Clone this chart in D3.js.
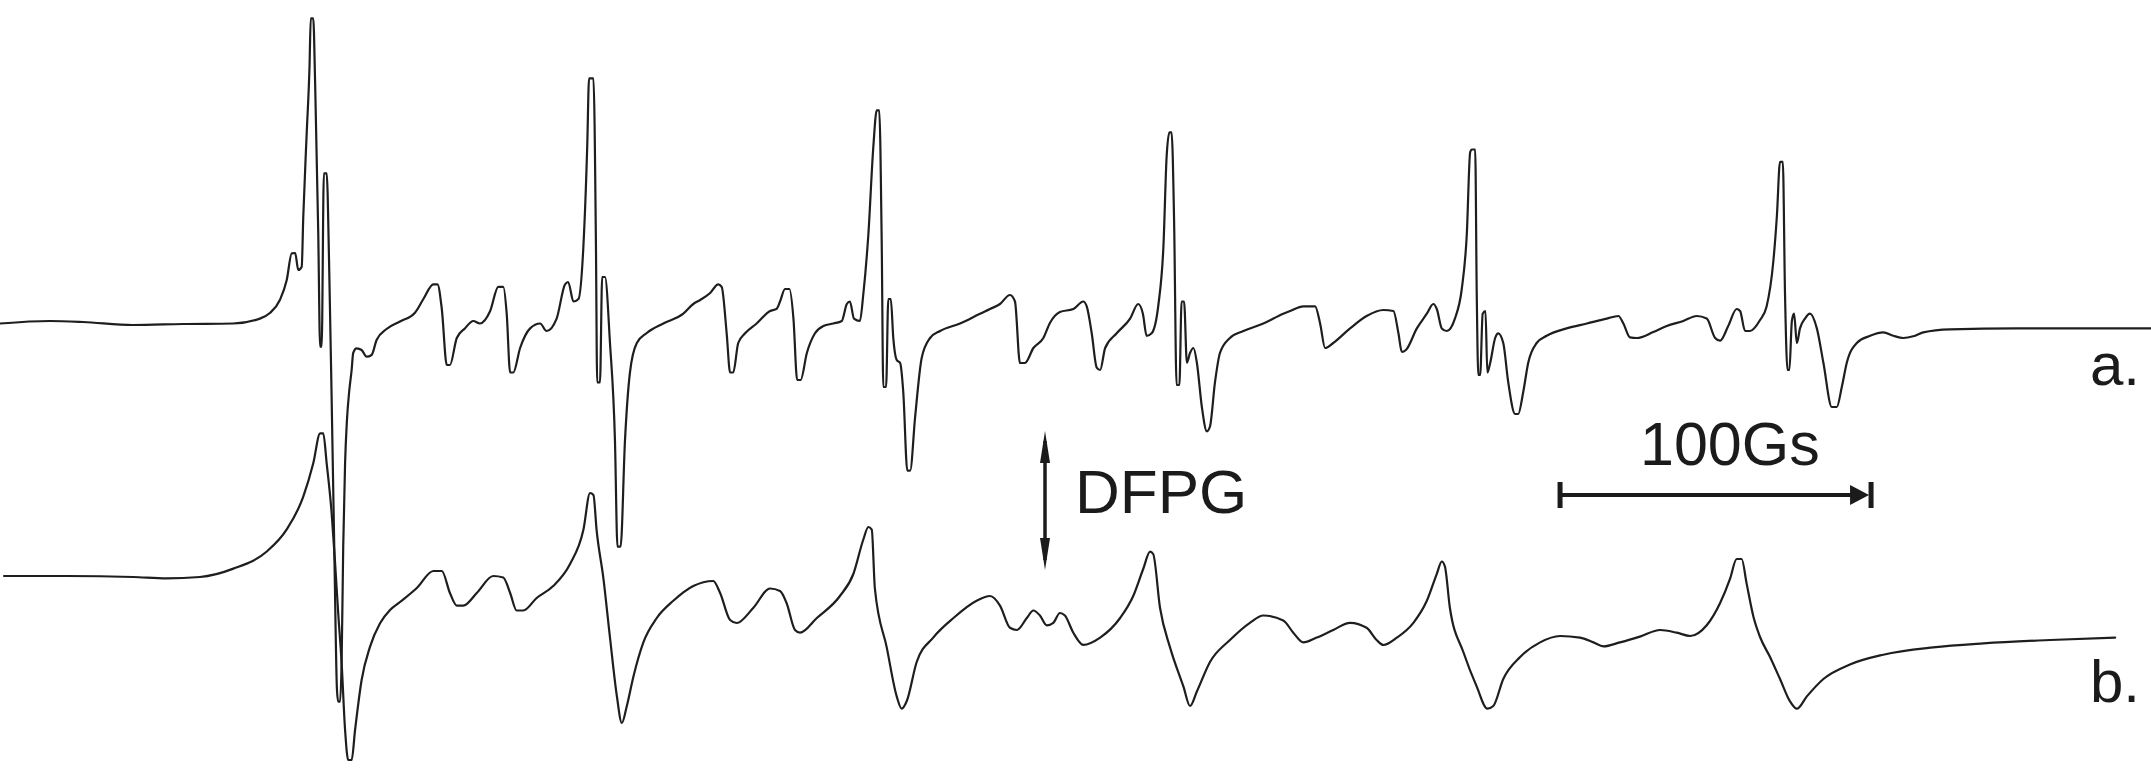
<!DOCTYPE html>
<html>
<head>
<meta charset="utf-8">
<title>EPR spectra a/b</title>
<script src="https://cdn.jsdelivr.net/npm/d3@7/dist/d3.min.js"></script>
<style>
  html, body { margin: 0; padding: 0; background: #ffffff; }
  svg { display: block; }
  text { font-family: "Liberation Sans", Arial, Helvetica, sans-serif; fill: #1b1b1b; }
</style>
</head>
<body>
<svg id="chart" width="2151" height="769"></svg>
<script>
// Magnetic field offset (G) and first-derivative signal (a.u.) for spectrum a
const fieldA = [
  0, 16.0, 26.6, 42.6, 58.7, 74.7, 83.3, 86.5, 89.7, 91.9, 93.5, 94.6, 95.6, 96.7, 97.2, 98.3, 99.2, 99.6, 100.4, 101.0,
  102.0, 102.6, 103.1, 103.8, 104.7, 105.5, 106.3, 107.2, 108.0, 108.4, 109.0, 109.5, 110.0, 110.6, 111.2, 111.9, 112.7, 113.2, 114.3, 115.9,
  117.5, 119.1, 120.7, 123.9, 128.2, 133.0, 135.7, 138.9, 140.2, 141.6, 143.2, 144.2, 146.4, 149.0, 151.7, 153.8, 157.1, 159.7, 161.3, 162.4,
  163.5, 164.5, 166.7, 169.9, 173.1, 175.2, 178.4, 181.1, 182.1, 183.8, 185.4, 187.0, 188.2, 188.8, 190.2, 191.0, 191.4, 192.3, 193.0, 193.9,
  195.5, 197.1, 197.9, 198.9, 200.3, 201.9, 204.1, 207.3, 212.6, 219.0, 222.2, 224.4, 227.6, 230.2, 231.3, 232.9, 234.0, 235.0, 236.6, 238.8,
  242.5, 246.8, 248.9, 250.0, 251.6, 253.0, 254.3, 255.5, 256.6, 258.6, 261.2, 263.9, 267.1, 269.8, 271.4, 272.4, 273.7, 275.6, 276.7, 278.3,
  279.9, 281.0, 281.8, 282.6, 283.1, 284.0, 284.7, 285.5, 286.3, 287.4, 288.5, 289.5, 290.8, 291.7, 293.3, 295.4, 298.1, 301.3, 307.7, 314.1,
  317.3, 320.5, 323.7, 325.3, 326.9, 328.5, 331.2, 334.4, 336.5, 339.7, 344.0, 347.2, 348.3, 349.9, 351.5, 352.6, 354.2, 357.9, 362.2, 364.8,
  366.3, 367.5, 369.1, 371.3, 372.9, 373.9, 374.8, 375.5, 376.3, 377.1, 378.0, 378.7, 379.5, 380.4, 381.4, 382.5, 383.6, 385.2, 386.8, 387.8,
  389.4, 391.0, 394.2, 398.5, 404.9, 411.3, 413.5, 417.7, 421.5, 423.1, 424.7, 427.3, 432.7, 438.0, 443.4, 446.6, 448.2, 449.3, 450.6, 454.1,
  457.3, 459.4, 460.5, 462.1, 463.7, 466.3, 468.5, 470.1, 471.2, 471.7, 472.8, 473.3, 473.8, 474.4, 475.2, 476.1, 476.7, 477.6, 479.2, 480.2,
  481.8, 483.4, 485.6, 486.6, 488.2, 489.8, 492.5, 495.7, 502.1, 508.6, 515.0, 518.7, 520.3, 522.4, 524.6, 529.9, 534.2, 539.5, 543.8, 547.0,
  549.7, 551.3, 553.9, 556.6, 557.7, 559.3, 560.9, 564.1, 566.2, 568.4, 569.5, 570.5, 571.4, 572.1, 572.9, 573.5, 574.3, 575.0, 575.9, 576.9,
  578.5, 580.1, 582.3, 584.4, 587.1, 588.7, 590.3, 591.9, 595.1, 599.4, 603.6, 606.8, 610.0, 613.2, 616.4, 625.0, 646.4, 667.7, 689.4
];
const signalA = [
  0.5, 3, 2, -1, 0, 0.5, 5.4, 11, 24, 44, 70.7, 71, 54, 57.3, 107.3, 191, 257.3, 305.7, 305.7, 241,
  91, -22.7, -22.7, 150.7, 150.7, 57.3, -76, -236, -366, -377.7, -377.7, -336, -223, -139, -96, -68, -46, -29, -24.3, -26,
  -32.7, -31, -16, -5, 2.5, 11.3, 25, 39.7, 39.7, 15, -41, -41, -14, -4.4, 3, 0.5, 13, 37.2, 37.2, 10.3,
  -48.5, -48.5, -24, -4.4, 0.5, -7, 5.4, 39.7, 42, 22.5, 25, 79, 177, 245.6, 245.6, 79, -58.4, -58.4, 47, 47,
  -19, -117, -222.6, -222.6, -117, -48.5, -19, -9, 0.5, 10.3, 20, 24, 31, 39.7, 37.2, -9.3, -48.5, -48.5, -19, -9.3,
  0.5, 13, 15.2, 22.5, 35, 35, 5.4, -56, -56, -29, -9.3, -2, 0.5, 3, 20, 22.5, 5.4, 3, 30, 89,
  177, 213.7, 213.7, 79, -63, -63, 25, 25, -14, -36, -39, -68, -146.6, -146.6, -93, -34, -14, -7, 0.5, 10.3,
  15, 20, 29, 22.5, -39, -39, -24, -14, 1, 12, 15, 22.5, 17.6, -9.3, -43.6, -46, -24, -9.3, 5.4, 20,
  10.3, -11.8, -9.3, 20, 79, 167, 191.6, 191.6, 103.4, -61, -61, 22.5, 22.5, -38.7, -29, -24, -38.7, -83, -107.4, -102.5,
  -58.4, -29, -14, -7, 0.5, 10.3, 13, 17.6, 17.6, 0.5, -24, -19, -4.4, 8, 14, 13, -9.3, -28, -26, -4.4,
  10.3, 20, 15, -4.4, -7, 5.4, 35, 89, 172, 174.5, 174.5, 30, -51, -51, 10.3, 13, -48.5, -39, -14, -9.3,
  -19, -58.4, -90, -90, -68, -38.7, -19, -11.8, -4.4, 0.5, 5.4, 8, 0.5, -13.3, -14, -8, -2, 3, 8, 5.4,
  -14, -16.7, -2, 15, 13, -7, -7, 4, 17.6, 64, 108.3, 162.2, 162.2, 30, -46, -46, 3, 10.3, -19, -4.4,
  5.4, 10.3, -4.4, -38.7, -83, -83, -63, -38.7, -19, -11.8, -8.4, -11.8, -14, -12.3, -8.4, -5.4, -4.4, -4.4, -4.4
];

// Magnetic field offset (G) and first-derivative signal (a.u.) for spectrum b
const fieldB = [
  1.3, 21.4, 42.7, 53.4, 64.1, 74.8, 85.5, 91.9, 97.2, 100.4, 102.6, 103.6, 104.7, 106.3, 107.4, 108.4, 109.5, 110.6, 111.6, 112.7,
  113.8, 115.9, 118.6, 121.8, 125.0, 128.2, 133.6, 138.9, 141.6, 144.2, 146.4, 148.5, 152.8, 158.1, 161.3, 163.5, 165.6, 167.7, 172.0, 177.3,
  182.7, 187.0, 189.1, 190.2, 191.2, 193.4, 195.5, 197.7, 199.3, 200.9, 203.0, 206.2, 210.5, 215.8, 222.2, 228.6, 230.8, 234.0, 236.1, 241.4,
  246.8, 250.0, 252.1, 254.8, 256.4, 261.8, 269.2, 273.5, 276.7, 278.3, 279.4, 280.4, 284.2, 287.4, 289.0, 290.6, 293.8, 299.1, 305.6, 313.0,
  317.3, 320.5, 323.7, 325.9, 329.1, 331.2, 333.3, 335.5, 337.6, 339.7, 341.3, 344.0, 347.2, 352.6, 359.0, 363.2, 366.4, 368.6, 369.6, 371.8,
  375.0, 379.3, 381.4, 383.6, 387.8, 394.2, 400.6, 404.9, 411.3, 414.5, 417.7, 422.0, 427.3, 432.7, 438.0, 441.2, 443.4, 447.7, 453.0, 457.3,
  460.5, 462.1, 463.1, 464.7, 469.0, 473.3, 476.7, 478.6, 481.8, 487.2, 493.6, 500.0, 506.4, 510.7, 513.9, 519.2, 525.6, 532.1, 537.4, 541.7,
  547.0, 551.3, 554.5, 556.6, 558.2, 559.8, 562.0, 564.1, 567.3, 570.5, 573.7, 575.9, 579.1, 584.4, 592.9, 603.6, 619.6, 635.7, 657.1, 677.9
];
const signalB = [
  1, 1, 0, -1.4, 0, 8.4, 25.5, 47.6, 80.3, 113.7, 143.7, 143.7, 113.7, 63.7, 13.7, -36.3, -86.3, -153, -183, -183,
  -153, -103, -69.7, -46.3, -33, -25, -11, 6, 6, -16, -28.6, -28.6, -16, 1, -0.5, -16, -33.5, -33.5, -21, -9,
  13, 47.4, 84, 82, 47.4, -1.6, -60.5, -119, -146, -129, -99.7, -65.4, -41, -23.8, -9, -4, -16, -43, -46, -31,
  -11.5, -14, -26, -53, -55.7, -41, -19, 3, 37.5, 50, 47.4, -11.5, -70.4, -119.4, -131.7, -124.3, -85, -60.6, -41, -23.8,
  -19, -28.6, -50.8, -53, -41, -33.5, -38.5, -48.3, -45.8, -36, -38.5, -55.7, -67.9, -60.6, -41, -19, 8, 25.3, 23, -31,
  -70.4, -109.6, -129, -114.5, -85, -63, -45.8, -38.5, -43.4, -55.7, -65.4, -60.6, -53, -45.8, -50.8, -63, -68, -60.6, -45.8, -23.8,
  3.2, 15.5, 10.5, -31, -75, -109.6, -131.7, -129, -102, -80, -65.4, -59, -60.6, -65.4, -69.4, -65.4, -59.6, -53, -55.7, -59,
  -48.3, -26, -1.6, 18, 18, -6.6, -40, -60, -80, -102, -124.3, -131.7, -119.4, -102, -87.5, -77.7, -70.4, -66.4, -63, -60.6
];

// Trace labels and annotation texts
const traceLabels = ["a.", "b."];
const scaleBarLabel = "100Gs";
const scaleBarField = [500, 600];   // G
const markerLabel = "DFPG";

const W = 2151, H = 769;
const svg = d3.select("#chart");

// Field axis: 100 G spans 312 px
const x = d3.scaleLinear().domain([0, 689.4]).range([0, W]);
// Signal axis shared by both traces; trace b is stacked below trace a
const y = d3.scaleLinear().domain([-445, 324]).range([H, 0]);
const stackOffset = [0, -253];

const traces = [
  d3.zip(fieldA, signalA),
  d3.zip(fieldB, signalB)
];

const line = d3.line()
  .x(d => x(d[0]))
  .y(d => y(d[1] + d.off))
  .curve(d3.curveMonotoneX);

svg.selectAll("path.trace")
  .data(traces.map((t, i) => t.map(p => { const q = [p[0], p[1]]; q.off = stackOffset[i]; return q; })))
  .join("path")
  .attr("class", "trace")
  .attr("d", line)
  .attr("fill", "none")
  .attr("stroke", "#1e1e1e")
  .attr("stroke-width", 2.2)
  .attr("stroke-linejoin", "round")
  .attr("stroke-linecap", "round");

// Trace labels at the right edge
svg.selectAll("text.tlabel")
  .data(traceLabels)
  .join("text")
  .attr("class", "tlabel")
  .attr("x", 2090)
  .attr("y", (d, i) => [385, 702][i])
  .attr("font-size", 60)
  .text(d => d);

// Field scale bar (100 G)
const sb = svg.append("g").attr("class", "scale-bar");
const sbY = 495;
const x0 = x(scaleBarField[0]), x1 = x(scaleBarField[1]);
sb.append("line")
  .attr("x1", x0).attr("x2", x1 - 18)
  .attr("y1", sbY).attr("y2", sbY)
  .attr("stroke", "#1b1b1b").attr("stroke-width", 4);
sb.append("line")
  .attr("x1", x0).attr("x2", x0)
  .attr("y1", sbY - 13).attr("y2", sbY + 13)
  .attr("stroke", "#1b1b1b").attr("stroke-width", 5);
sb.append("line")
  .attr("x1", x1 - 1).attr("x2", x1 - 1)
  .attr("y1", sbY - 13).attr("y2", sbY + 13)
  .attr("stroke", "#1b1b1b").attr("stroke-width", 5);
sb.append("path")
  .attr("d", `M${x1 - 22},${sbY - 10} L${x1 - 3},${sbY} L${x1 - 22},${sbY + 10} Z`)
  .attr("fill", "#1b1b1b");
sb.append("text")
  .attr("x", 1640)
  .attr("y", 465)
  .attr("font-size", 61)
  .text(scaleBarLabel);

// Reference marker: double-headed arrow with label
const mk = svg.append("g").attr("class", "marker");
const mx = 1045, mTop = 431, mBot = 570;
mk.append("line")
  .attr("x1", mx).attr("x2", mx)
  .attr("y1", mTop + 10).attr("y2", mBot - 10)
  .attr("stroke", "#1b1b1b").attr("stroke-width", 3.5);
mk.append("path")
  .attr("d", `M${mx},${mTop} L${mx + 5},${mTop + 32} L${mx - 5},${mTop + 32} Z`)
  .attr("fill", "#1b1b1b");
mk.append("path")
  .attr("d", `M${mx},${mBot} L${mx + 5},${mBot - 32} L${mx - 5},${mBot - 32} Z`)
  .attr("fill", "#1b1b1b");
mk.append("text")
  .attr("x", 1075)
  .attr("y", 513)
  .attr("font-size", 62)
  .text(markerLabel);
</script>
</body>
</html>
